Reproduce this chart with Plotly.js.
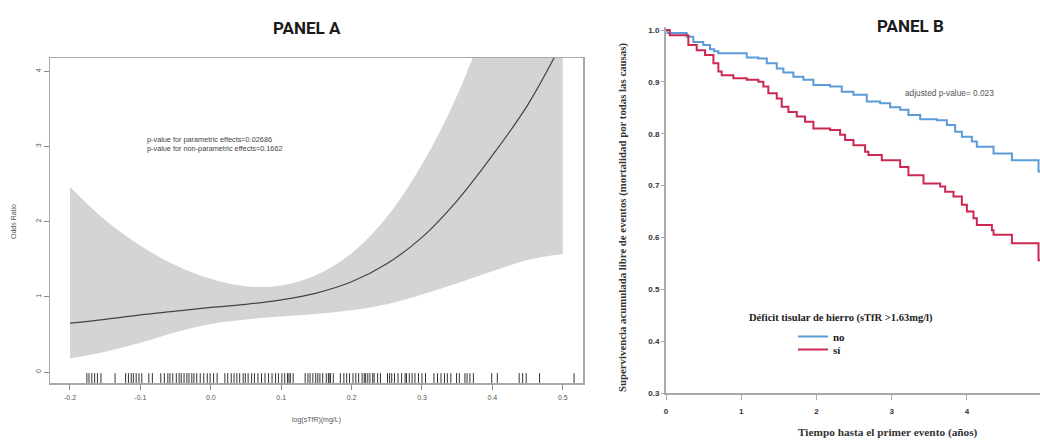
<!DOCTYPE html>
<html>
<head>
<meta charset="utf-8">
<script src="https://cdn.plot.ly/plotly-3.0.1.min.js"></script>
<style>
html, body { margin: 0; padding: 0; overflow: hidden; background: #fff; }
#chart { width: 1100px; height: 440px; }
</style>
</head>
<body>
<div id="chart"></div>
<script>
// ---------- PANEL A data (spline fit of odds ratio vs log(sTfR)) ----------
const logSTfR = [-0.2, -0.15, -0.1, -0.05, 0.0, 0.05, 0.1, 0.15, 0.2, 0.25, 0.3, 0.35, 0.4, 0.45, 0.5];
const oddsRatio = [0.65, 0.70, 0.76, 0.81, 0.86, 0.90, 0.96, 1.05, 1.20, 1.44, 1.79, 2.28, 2.88, 3.55, 4.40];
const ciUpper = [2.46, 2.02, 1.68, 1.42, 1.24, 1.14, 1.15, 1.29, 1.58, 2.06, 2.76, 3.68, 4.90, 6.40, 8.30];
const ciLower = [0.18, 0.27, 0.39, 0.53, 0.64, 0.70, 0.74, 0.77, 0.82, 0.90, 1.03, 1.18, 1.34, 1.49, 1.57];
const rugValues = [-0.176, -0.173, -0.169, -0.165, -0.161, -0.156, -0.136, -0.121, -0.117, -0.113, -0.110,
  -0.106, -0.102, -0.098, -0.088, -0.083, -0.071, -0.066, -0.061, -0.058, -0.054, -0.049, -0.045, -0.042,
  -0.038, -0.034, -0.031, -0.027, -0.024, -0.020, -0.015, -0.010, -0.005, -0.001, 0.004, 0.009, 0.020,
  0.024, 0.029, 0.033, 0.037, 0.041, 0.046, 0.049, 0.053, 0.058, 0.062, 0.067, 0.072, 0.077, 0.082, 0.087,
  0.092, 0.096, 0.101, 0.105, 0.109, 0.111, 0.113, 0.117, 0.134, 0.138, 0.141, 0.145, 0.149, 0.152, 0.155,
  0.159, 0.164, 0.167, 0.168, 0.170, 0.174, 0.184, 0.189, 0.193, 0.197, 0.202, 0.206, 0.210, 0.215, 0.218,
  0.220, 0.223, 0.226, 0.230, 0.232, 0.237, 0.241, 0.251, 0.254, 0.257, 0.261, 0.266, 0.271, 0.276, 0.278,
  0.282, 0.286, 0.290, 0.295, 0.300, 0.305, 0.317, 0.322, 0.327, 0.332, 0.336, 0.341, 0.349, 0.353, 0.361,
  0.364, 0.368, 0.373, 0.399, 0.407, 0.438, 0.443, 0.448, 0.467, 0.516];
const xTickValsA = [-0.2, -0.1, 0.0, 0.1, 0.2, 0.3, 0.4, 0.5];
const xTickTextA = ['-0.2', '-0.1', '0.0', '0.1', '0.2', '0.3', '0.4', '0.5'];
const yTickValsA = [0, 1, 2, 3, 4];
const yTickTextA = ['0', '1', '2', '3', '4'];
const annotA = ['p-value for parametric effects=0.02686', 'p-value for non-parametric effects=0.1662'];

// ---------- PANEL B data (Kaplan-Meier) ----------
const timeNo = [0, 0.02, 0.275, 0.363, 0.496, 0.585, 0.64, 0.696, 1.073, 1.228, 1.339, 1.472, 1.560, 1.693,
  1.826, 1.959, 2.181, 2.336, 2.491, 2.668, 2.846, 2.979, 3.112, 3.222, 3.378, 3.600, 3.733, 3.843, 3.932,
  4.065, 4.131, 4.353, 4.597, 4.951, 5.3];
const survNo = [1.0, 0.994, 0.987, 0.977, 0.971, 0.963, 0.959, 0.955, 0.947, 0.945, 0.936, 0.926, 0.918, 0.910,
  0.904, 0.894, 0.891, 0.881, 0.875, 0.862, 0.859, 0.851, 0.846, 0.836, 0.828, 0.826, 0.817, 0.804, 0.794,
  0.785, 0.775, 0.762, 0.749, 0.727, 0.727];
const timeSi = [0, 0.05, 0.297, 0.408, 0.519, 0.630, 0.696, 0.740, 0.895, 1.073, 1.228, 1.294, 1.360, 1.472,
  1.538, 1.627, 1.738, 1.848, 1.959, 2.181, 2.314, 2.380, 2.491, 2.646, 2.690, 2.868, 3.112, 3.222, 3.422,
  3.644, 3.710, 3.821, 3.932, 3.999, 4.087, 4.131, 4.331, 4.353, 4.597, 4.951, 5.3];
const survSi = [1.0, 0.990, 0.971, 0.961, 0.952, 0.936, 0.920, 0.913, 0.907, 0.904, 0.900, 0.891, 0.878, 0.868,
  0.852, 0.842, 0.833, 0.823, 0.810, 0.807, 0.798, 0.788, 0.778, 0.765, 0.759, 0.749, 0.736, 0.720, 0.704,
  0.698, 0.688, 0.679, 0.663, 0.650, 0.637, 0.624, 0.614, 0.605, 0.589, 0.556, 0.556];
const groupNames = ['no', 'sí'];
const legendTitle = 'Déficit tisular de hierro (sTfR >1.63mg/l)';
const xTickValsB = [0, 1, 2, 3, 4, 5];
const yTickValsB = [0.3, 0.4, 0.5, 0.6, 0.7, 0.8, 0.9, 1.0];
const yTickTextB = ['0.3', '0.4', '0.5', '0.6', '0.7', '0.8', '0.9', '1.0'];

// ---------- layout helpers ----------
const W = 1100, H = 440;
const fx = p => p / W;
const fy = p => (H - p) / H;

const sans = 'Liberation Sans, Arial, sans-serif';
const serif = 'Liberation Serif, Times New Roman, serif';

const traces = [
  { x: logSTfR, y: ciLower, xaxis: 'x', yaxis: 'y', mode: 'lines', line: { width: 0, shape: 'spline', color: '#d4d4d4' }, showlegend: false, hoverinfo: 'skip' },
  { x: logSTfR, y: ciUpper, xaxis: 'x', yaxis: 'y', mode: 'lines', fill: 'tonexty', fillcolor: '#d4d4d4', line: { width: 0, shape: 'spline', color: '#d4d4d4' }, showlegend: false, hoverinfo: 'skip' },
  { x: logSTfR, y: oddsRatio, xaxis: 'x', yaxis: 'y', mode: 'lines', line: { width: 1.2, shape: 'spline', color: '#444444' }, showlegend: false },
  { x: rugValues, y: rugValues.map(() => -0.08), xaxis: 'x', yaxis: 'y', mode: 'markers', marker: { symbol: 'line-ns-open', size: 7, color: '#333', line: { width: 1, color: '#333' } }, showlegend: false },
  { x: timeNo, y: survNo, xaxis: 'x2', yaxis: 'y2', mode: 'lines', name: groupNames[0], legend: 'legend', line: { shape: 'hv', width: 2, color: '#5b9bd8' } },
  { x: timeSi, y: survSi, xaxis: 'x2', yaxis: 'y2', mode: 'lines', name: groupNames[1], legend: 'legend2', line: { shape: 'hv', width: 2, color: '#cc2952' } }
];

const legendStyle = (topPx) => ({
  x: fx(793), y: fy(topPx), xanchor: 'left', yanchor: 'top',
  font: { family: serif, size: 11, color: '#222', weight: 'bold' },
  itemwidth: 30, bgcolor: 'rgba(0,0,0,0)', borderwidth: 0
});

const layout = {
  width: W, height: H,
  margin: { l: 0, r: 0, t: 0, b: 0 },
  paper_bgcolor: '#fff', plot_bgcolor: 'rgba(0,0,0,0)',
  showlegend: true,
  legend: legendStyle(322),
  legend2: legendStyle(335),
  xaxis: {
    domain: [fx(50), fx(583)], range: [-0.2284, 0.5287], anchor: 'y',
    showgrid: false, zeroline: false, showline: true, mirror: true, linecolor: '#a8a8a8', linewidth: 1.5,
    ticks: 'outside', ticklen: 5, tickcolor: '#888', tickwidth: 1, ticklabelstandoff: 2,
    tickvals: xTickValsA, ticktext: xTickTextA,
    tickfont: { family: sans, size: 7, color: '#555' }
  },
  yaxis: {
    domain: [fy(383), fy(58)], range: [-0.146, 4.176], anchor: 'x',
    showgrid: false, zeroline: false, showline: true, mirror: true, linecolor: '#a8a8a8', linewidth: 1.5,
    ticks: 'outside', ticklen: 5, tickcolor: '#888', tickwidth: 1,
    tickvals: yTickValsA, ticktext: yTickTextA, tickangle: -90,
    tickfont: { family: sans, size: 7, color: '#555' }
  },
  xaxis2: {
    domain: [fx(666), fx(1090)], range: [0, 5.635], anchor: 'y2',
    showgrid: false, zeroline: false, showline: true, linecolor: '#aaaaaa', linewidth: 2,
    ticks: 'outside', ticklen: 5, tickcolor: '#aaa', tickwidth: 1, ticklabelstandoff: 4,
    tickvals: xTickValsB, ticktext: xTickValsB.map(String),
    tickfont: { family: sans, size: 8, color: '#333', weight: 'bold' }
  },
  yaxis2: {
    domain: [fy(393), fy(26.9)], range: [0.3, 1.006], anchor: 'x2',
    showgrid: false, zeroline: false, showline: true, linecolor: '#aaaaaa', linewidth: 2,
    ticks: 'outside', ticklen: 3, tickcolor: '#aaa', tickwidth: 1,
    tickvals: yTickValsB, ticktext: yTickTextB,
    tickfont: { family: sans, size: 8, color: '#333', weight: 'bold' }
  },
  annotations: [
    { text: 'PANEL A', x: fx(307), y: fy(28), xref: 'paper', yref: 'paper', showarrow: false, xanchor: 'center', yanchor: 'middle',
      font: { family: 'Roboto, sans-serif', size: 17, color: '#1a1a1a', weight: 'bold' } },
    { text: 'PANEL B', x: fx(910), y: fy(26), xref: 'paper', yref: 'paper', showarrow: false, xanchor: 'center', yanchor: 'middle',
      font: { family: 'Roboto, sans-serif', size: 17, color: '#1a1a1a', weight: 'bold' } },
    { text: annotA[0] + '<br>' + annotA[1], x: fx(145), y: fy(143.5), xref: 'paper', yref: 'paper', showarrow: false,
      xanchor: 'left', yanchor: 'middle', align: 'left', font: { family: sans, size: 7.3, color: '#444' } },
    { text: 'Odds Ratio', x: fx(13), y: fy(222), xref: 'paper', yref: 'paper', showarrow: false, textangle: -90,
      xanchor: 'center', yanchor: 'middle', font: { family: sans, size: 7, color: '#555' } },
    { text: 'log(sTfR)(mg/L)', x: fx(316), y: fy(420), xref: 'paper', yref: 'paper', showarrow: false,
      xanchor: 'center', yanchor: 'middle', font: { family: sans, size: 7, color: '#555' } },
    { text: 'adjusted p-value= 0.023', x: fx(903), y: fy(93), xref: 'paper', yref: 'paper', showarrow: false,
      xanchor: 'left', yanchor: 'middle', font: { family: sans, size: 8.3, color: '#555' } },
    { text: 'Supervivencia acumulada libre de eventos (mortalidad por todas las causas)', x: fx(622), y: fy(218), xref: 'paper', yref: 'paper',
      showarrow: false, textangle: -90, xanchor: 'center', yanchor: 'middle', font: { family: serif, size: 10.8, color: '#333', weight: 'bold' } },
    { text: 'Tiempo hasta el primer evento (años)', x: fx(888), y: fy(432), xref: 'paper', yref: 'paper', showarrow: false,
      xanchor: 'center', yanchor: 'middle', font: { family: serif, size: 11.3, color: '#333', weight: 'bold' } },
    { text: legendTitle, x: fx(841), y: fy(318), xref: 'paper', yref: 'paper', showarrow: false,
      xanchor: 'center', yanchor: 'middle', font: { family: serif, size: 10.5, color: '#222', weight: 'bold' } }
  ]
};

Plotly.newPlot('chart', traces, layout, { staticPlot: true, displayModeBar: false });
</script>
</body>
</html>
